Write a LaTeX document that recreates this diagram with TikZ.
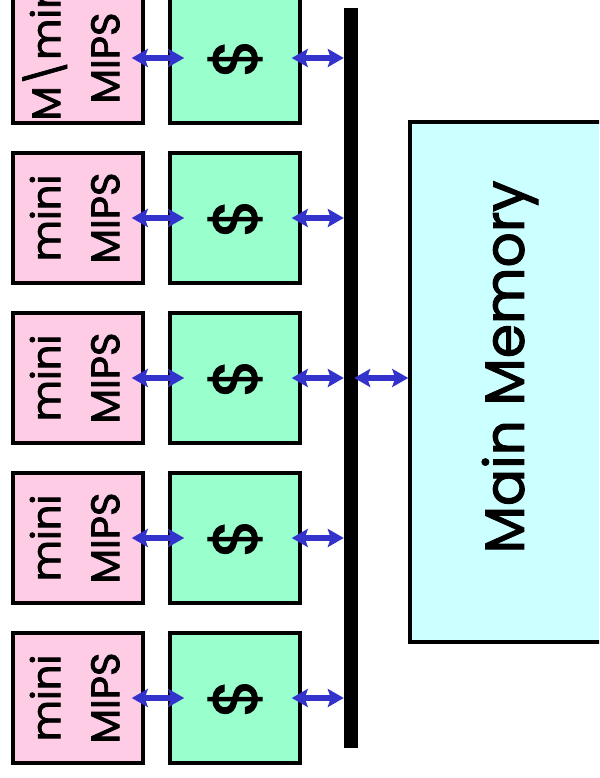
\documentclass[tikz,border=0pt]{standalone}
\usepackage{fontspec}
\usepackage{graphicx}
\setmainfont{Poppins}[FakeBold=2]
\usetikzlibrary{arrows.meta}
\definecolor{cpuPink}{HTML}{FFCCE5}
\definecolor{cacheGreen}{HTML}{99FFCC}
\definecolor{memCyan}{HTML}{CCFFFF}
\definecolor{linkBlue}{HTML}{3333CC}
\tikzset{
  cpubox/.style={draw=black, line width=3.5pt, fill=cpuPink, minimum width=130pt, minimum height=130pt, inner sep=0pt},
  cachebox/.style={draw=black, line width=3.5pt, fill=cacheGreen, minimum width=130pt, minimum height=130pt, inner sep=0pt},
  membox/.style={draw=black, line width=3.5pt, fill=memCyan, minimum width=200pt, minimum height=520pt, inner sep=0pt},
  busbar/.style={fill=black, draw=none, minimum width=14pt, minimum height=740pt, inner sep=0pt},
  link/.style={draw=linkBlue, line width=6pt, {Stealth[length=16pt,width=18pt,inset=3pt]}-{Stealth[length=16pt,width=18pt,inset=3pt]}},
}
\newcommand{\flatrot}[1]{\raisebox{-0.5\height}[0pt][0pt]{\rotatebox{90}{#1}}}
\newcommand{\cpulabel}[1]{\flatrot{\fontsize{40}{59}\selectfont\begin{tabular}{@{}c@{}}#1\\MIPS\end{tabular}}}
\newcommand{\cachelabel}{\flatrot{\fontsize{62}{64}\selectfont\$}}
\begin{document}
\begin{tikzpicture}[x=1pt,y=-1pt]
\useasboundingbox (0,0) rectangle (599,778);
\clip (0,0) rectangle (599,778);
\node[busbar] (bus) at (351,378) {};
\node[membox] (mem) at (510,382) {\flatrot{\fontsize{55}{60}\selectfont\hspace*{30pt}Main Memory}};
\node[cpubox] (p1) at (78,58) {\cpulabel{\hspace*{22pt}M\textbackslash mini}};
\node[cpubox] (p2) at (78,218) {\cpulabel{mini}};
\node[cpubox] (p3) at (78,378) {\cpulabel{mini}};
\node[cpubox] (p4) at (78,538) {\cpulabel{mini}};
\node[cpubox] (p5) at (78,698) {\cpulabel{mini}};
\node[cachebox] (c1) at (235,58) {\cachelabel};
\node[cachebox] (c2) at (235,218) {\cachelabel};
\node[cachebox] (c3) at (235,378) {\cachelabel};
\node[cachebox] (c4) at (235,538) {\cachelabel};
\node[cachebox] (c5) at (235,698) {\cachelabel};
\foreach \i in {1,...,5}{
  \draw[link] ([xshift=-13pt]p\i.east) -- ([xshift=16pt]c\i.west);
  \draw[link] ([xshift=-10pt]c\i.east) -- (bus.west |- c\i.east);
}
\draw[link] ([xshift=-4pt]bus.east |- mem.west) ++(0,-4) -- ([yshift=4pt]mem.west);
\end{tikzpicture}
\end{document}
